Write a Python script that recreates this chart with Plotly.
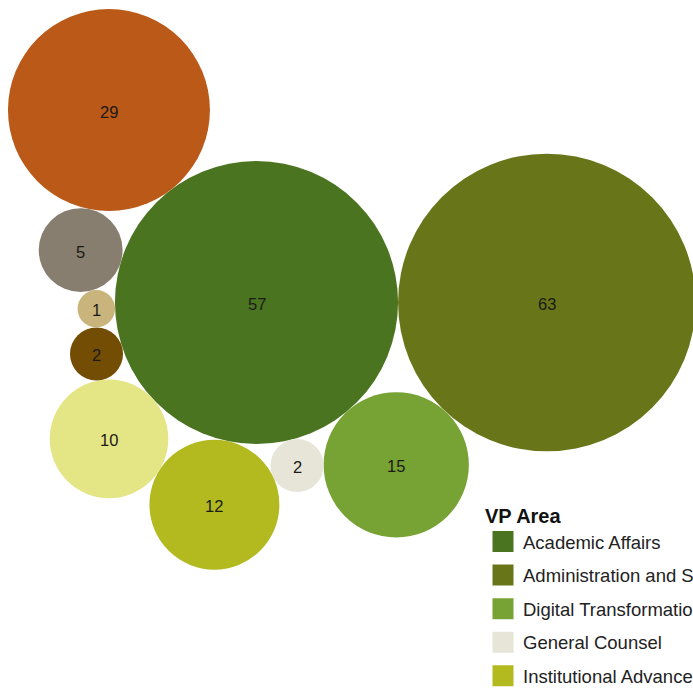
import math
import plotly.graph_objects as go

# ---- data ----
vp_areas = [
    "Academic Affairs",
    "Administration and Strategy",
    "Digital Transformation",
    "General Counsel",
    "Institutional Advancement",
    "VP Area 6",
    "VP Area 7",
    "VP Area 8",
    "VP Area 9",
    "VP Area 10",
]
counts = [57, 63, 15, 2, 12, 10, 2, 1, 5, 29]
colors = [
    "#4b7420", "#687619", "#77a234", "#e6e5d8", "#b2ba20",
    "#e4e585", "#744d05", "#c9b57c", "#877e6f", "#ba5918",
]
legend_count = 5  # entries visible in the reference legend

# ---- packed-bubble layout (front chain around the first bubble) ----
W, H = 693, 691
px_per_sqrt = 18.75          # radius in px = px_per_sqrt * sqrt(count)
origin = (256.5, 302.5)

radii = [px_per_sqrt * math.sqrt(v) for v in counts]
xs, ys = [origin[0]], [origin[1]]
theta = 0.0
for i in range(1, len(counts)):
    d0i = radii[0] + radii[i]
    if i > 1:
        d0p = radii[0] + radii[i - 1]
        dpi = radii[i - 1] + radii[i]
        cosphi = (d0i ** 2 + d0p ** 2 - dpi ** 2) / (2 * d0i * d0p)
        theta += math.acos(max(-1.0, min(1.0, cosphi)))
    xs.append(origin[0] + d0i * math.cos(theta))
    ys.append(origin[1] + d0i * math.sin(theta))

fig = go.Figure()
for i, (name, v, c) in enumerate(zip(vp_areas, counts, colors)):
    fig.add_trace(go.Scatter(
        x=[xs[i]], y=[ys[i]], mode="markers",
        marker=dict(size=2 * radii[i], color=c, line=dict(width=0)),
        name=name, legendgroup=name, showlegend=False,
        hovertemplate=name + ": " + str(v) + "<extra></extra>",
    ))
    fig.add_annotation(
        x=xs[i], y=ys[i], text=str(v), showarrow=False, yshift=-1.5,
        font=dict(size=16.5, color="#1a1a1a", family="Liberation Sans, Arial, sans-serif"),
    )

for name, c in list(zip(vp_areas, colors))[:legend_count]:
    fig.add_trace(go.Scatter(
        x=[None], y=[None], mode="markers",
        marker=dict(symbol="square", size=16, color=c, line=dict(color=c, width=5)),
        name=name, legendgroup=name, showlegend=True,
    ))

fig.update_layout(
    width=W, height=H,
    margin=dict(l=0, r=0, t=0, b=0, autoexpand=False),
    paper_bgcolor="white", plot_bgcolor="white",
    xaxis=dict(range=[0, W], visible=False, fixedrange=True),
    yaxis=dict(range=[H, 0], visible=False, fixedrange=True),
    font=dict(family="Liberation Sans, Arial, sans-serif", color="#222"),
    legend=dict(
        x=483 / W, y=1 - 497 / H, xanchor="left", yanchor="top",
        title=dict(text="<b>VP Area</b>", font=dict(size=20, color="#111")),
        font=dict(size=18.5, color="#222"),
        tracegroupgap=6.5, itemsizing="trace",
        bgcolor="rgba(0,0,0,0)", borderwidth=0,
    ),
)

fig.write_html(
    "out.html",
    config={"displayModeBar": False},
    post_script="document.body.style.margin='0px';",
)
